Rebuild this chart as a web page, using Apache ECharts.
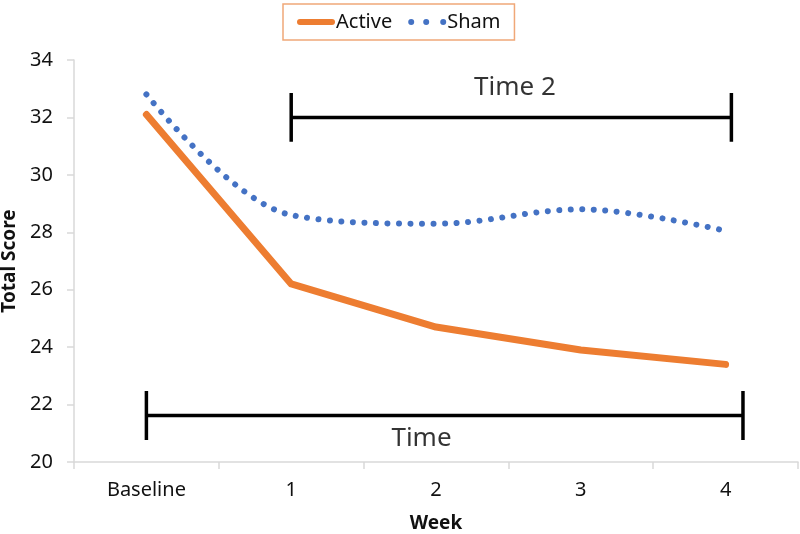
<!DOCTYPE html>
<html><head><meta charset="utf-8">
<script src="https://cdn.jsdelivr.net/npm/echarts@6/dist/echarts.min.js"></script>
<style>html,body{margin:0;padding:0;background:#fff}#c{width:800px;height:534px}</style>
</head><body><div id="c"></div>
<script>
var categories = ['Baseline', '1', '2', '3', '4'];
var activeValues = [32.1, 26.2, 24.7, 23.9, 23.4];
var shamValues = [32.8, 28.6, 28.3, 28.8, 28.05];
var yTicks = {min: 20, max: 34, interval: 2};
// brackets: [x start index, x end index, y level, cap half-height]
var bracketTime2 = [1, 4.04, 32, 0.85];
var bracketTime = [0, 4.12, 21.62, 0.85];
var labelTime2 = [2.545, 33.05, 'Time 2'];
var labelTime = [1.9, 20.8, 'Time'];

function bracketPath(b) {
  return [[b[0], b[2] - b[3]], [b[0], b[2] + b[3]], [b[0], b[2]], [b[1], b[2]], [b[1], b[2] + b[3]], [b[1], b[2] - b[3]]];
}
var iconActive = 'path://M3,0H35A3,3 0 0 1 35,6H3A3,3 0 0 1 3,0Z';
var iconSham = 'path://M0,3a3,3 0 1,0 6,0a3,3 0 1,0 -6,0ZM15,3a3,3 0 1,0 6,0a3,3 0 1,0 -6,0ZM32,3a3,3 0 1,0 6,0a3,3 0 1,0 -6,0Z';
var font = '"Noto Sans", sans-serif';
var chart = echarts.init(document.getElementById('c'), null, {renderer: 'canvas'});
chart.setOption({
  animation: false,
  textStyle: {fontFamily: font},
  legend: {
    data: [
      {name: 'Active', icon: iconActive, itemStyle: {color: '#ed7d31'}, lineStyle: {opacity: 0, width: 0}},
      {name: 'Sham', icon: iconSham, itemStyle: {color: '#4472c4'}, lineStyle: {opacity: 0, width: 0}}
    ],
    left: 283, top: 4,
    padding: [8, 14, 8, 14],
    itemWidth: 38, itemHeight: 6, itemGap: 16,
    borderColor: '#f0a878', borderWidth: 1.5,
    textStyle: {fontSize: 20, color: '#111', fontFamily: font, padding: [0, 0, 0, -4]}
  },
  grid: {left: 74, right: 2, top: 60, bottom: 72, outerBoundsMode: 'none', containLabel: false},
  xAxis: [{
    type: 'category', data: categories, boundaryGap: true,
    name: 'Week', nameLocation: 'middle', nameGap: 52,
    nameTextStyle: {fontSize: 19, fontWeight: 'bold', color: '#111', fontFamily: font},
    axisLine: {onZero: false, lineStyle: {color: '#d9d9d9', width: 1.5}},
    axisTick: {show: true, length: 7, lineStyle: {color: '#d9d9d9', width: 1.5}},
    axisLabel: {fontSize: 20, color: '#111', margin: 18, fontFamily: font}
  }, {
    type: 'value', min: -0.5, max: 4.5, show: false
  }],
  yAxis: {
    type: 'value', min: yTicks.min, max: yTicks.max, interval: yTicks.interval,
    name: 'Total Score', nameLocation: 'middle', nameGap: 49,
    nameTextStyle: {fontSize: 19, fontWeight: 'bold', color: '#111', fontFamily: font},
    splitLine: {show: false},
    axisLine: {show: true, onZero: false, lineStyle: {color: '#d9d9d9', width: 1.5}},
    axisTick: {show: true, length: 7, lineStyle: {color: '#d9d9d9', width: 1.5}},
    axisLabel: {fontSize: 20, color: '#111', margin: 21, fontFamily: font}
  },
  series: [{
    name: 'Active', type: 'line', data: activeValues,
    symbol: 'none', smooth: false,
    itemStyle: {color: '#ed7d31'},
    lineStyle: {color: '#ed7d31', width: 7, cap: 'round', join: 'round'},
    z: 3
  }, {
    name: 'Sham', type: 'line', data: shamValues,
    symbol: 'none', smooth: 0.35,
    itemStyle: {color: '#4472c4'},
    lineStyle: {color: '#4472c4', width: 6, type: [0.01, 11.5], cap: 'round'},
    z: 3
  }, {
    name: 'bracket2', type: 'line', xAxisIndex: 1, data: bracketPath(bracketTime2),
    symbol: 'none', lineStyle: {color: '#000', width: 3.5}, silent: true
  }, {
    name: 'bracket1', type: 'line', xAxisIndex: 1, data: bracketPath(bracketTime),
    symbol: 'none', lineStyle: {color: '#000', width: 3.5}, silent: true
  }, {
    name: 'labels', type: 'scatter', xAxisIndex: 1, symbolSize: 0,
    data: [labelTime2, labelTime].map(function (d) { return {value: [d[0], d[1]], name: d[2]}; }),
    label: {show: true, position: 'inside', formatter: '{b}', fontSize: 26, color: '#000', fontFamily: font},
    silent: true
  }]
});
</script></body></html>
